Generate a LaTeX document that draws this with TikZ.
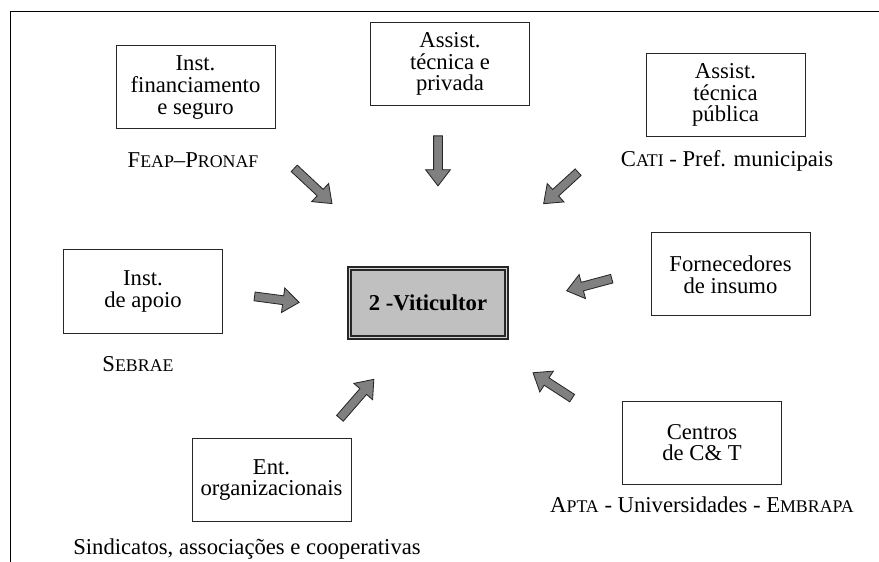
\documentclass[tikz,border=0pt]{standalone}
\usepackage{fontspec}
\setmainfont{Liberation Serif}
\usetikzlibrary{shapes.arrows}
\newcommand{\versal}[1]{{\fontsize{10.7}{11}\selectfont #1}}

\begin{document}
\begin{tikzpicture}[x=0.6pt,y=-0.6pt,
    font=\fontsize{13.6}{13}\selectfont,
    caixa/.style={draw=black!85, line width=0.6pt, align=center,
      minimum width=95.4pt, minimum height=49.8pt, inner sep=2pt},
    rotulo/.style={inner sep=0pt},
    seta/.style={single arrow, draw=black!85, line width=0.5pt,
      fill={rgb,255:red,128;green,128;blue,128}, inner sep=2.4pt,
      minimum width=14.4pt, single arrow head extend=4.8pt,
      single arrow tip angle=75, minimum height=#1},
    seta/.default=30pt]
  \useasboundingbox (0,0) rectangle (879,562);

  % moldura
  \draw[line width=0.6pt] (10,562) -- (10,12) -- (879,12);

  % caixa central
  \node[draw=black!85, line width=1.2pt, double=gray!35, double distance=0.5pt,
    fill={rgb,255:red,192;green,192;blue,192}, minimum width=94.4pt,
    minimum height=41.6pt, font=\fontsize{13.6}{13}\selectfont\bfseries]
    (vit) at (428,303) {2 -Viticultor};

  % caixas em volta
  \node[caixa] (fin) at (195.5,87.5) {Inst.\\financiamento\\e seguro};
  \node[caixa] (priv) at (450,64) {Assist.\\t\'ecnica e\\privada};
  \node[caixa] (pub) at (725.5,95) {Assist.\\t\'ecnica\\p\'ublica};
  \node[caixa] (apoio) at (143,291.5) {Inst.\\de apoio};
  \node[caixa] (forn) at (730.5,274.5) {Fornecedores\\de insumo};
  \node[caixa] (ct) at (702,442.5) {Centros\\de C\& T};
  \node[caixa] (ent) at (271.5,480) {Ent.\\organizacionais};

  % exemplos
  \node[rotulo] (feap) at (193,160) {F\versal{EAP}--P\versal{RONAF}};
  \node[rotulo] (cati) at (727,161) {C\versal{ATI} - Pref. municipais};
  \node[rotulo] (sebrae) at (138,364) {S\versal{EBRAE}};
  \node[rotulo] (apta) at (702,505) {A\versal{PTA} - Universidades - E\versal{MBRAPA}};
  \node[rotulo] (sind) at (247,549) {Sindicatos, associa\c{c}\~oes e cooperativas};

  % setas
  \node[seta=31pt, rotate=-43] (s1) at (311,184) {};
  \node[seta=30pt, rotate=-90] (s2) at (438,158) {};
  \node[seta=28pt, rotate=-137.6] (s3) at (563,186) {};
  \node[seta=27pt, rotate=-7.6] (s4) at (274,299) {};
  \node[seta=28pt, rotate=-165] (s5) at (592,284) {};
  \node[seta=31pt, rotate=49] (s6) at (355,401) {};
  \node[seta=28pt, rotate=147] (s7) at (555,387) {};
\end{tikzpicture}
\end{document}
